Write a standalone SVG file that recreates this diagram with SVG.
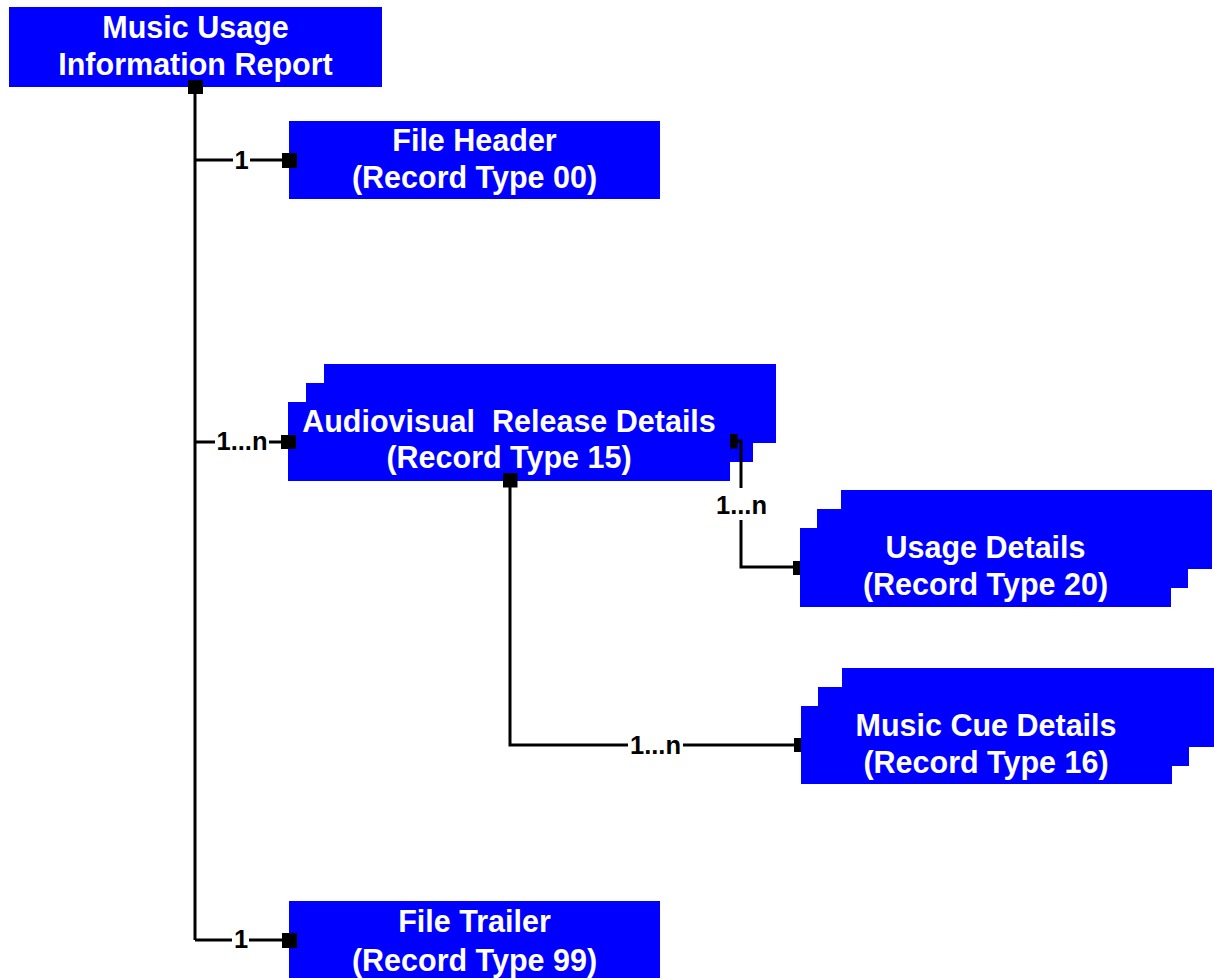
<svg xmlns="http://www.w3.org/2000/svg" width="1214" height="978" viewBox="0 0 1214 978">
  <style>
    .box { fill: #0000FF; stroke: none; }
    .nt { font-family: "Liberation Sans", Arial, sans-serif; font-weight: bold; font-size: 30.5px; fill: #FFFFFF; text-anchor: middle; }
    .ln { fill: none; stroke: #000000; stroke-width: 3; }
    .end { fill: #000000; }
    .lbg { fill: #FFFFFF; }
    .lt { font-family: "Liberation Sans", Arial, sans-serif; font-weight: bold; font-size: 25.5px; fill: #000000; text-anchor: middle; }
  </style>
  <rect width="1214" height="978" fill="#FFFFFF"/>

  <g id="nodes">
    <g id="report">
      <rect class="box" x="9" y="7" width="373" height="80"/>
      <text class="nt" x="195.5" y="37.5">Music Usage</text>
      <text class="nt" x="195.5" y="74.5">Information Report</text>
    </g>
    <g id="file-header">
      <rect class="box" x="289" y="121" width="371" height="78"/>
      <text class="nt" x="474.5" y="150.5">File Header</text>
      <text class="nt" x="474.5" y="187.5">(Record Type 00)</text>
    </g>
    <g id="av-release">
      <rect class="box" x="324" y="364" width="452" height="79"/>
      <rect class="box" x="306" y="383" width="447" height="79"/>
      <rect class="box" x="288" y="402" width="442" height="79"/>
      <text class="nt" x="509" y="431.5" xml:space="preserve">Audiovisual  Release Details</text>
      <text class="nt" x="509" y="468">(Record Type 15)</text>
    </g>
    <g id="usage-details">
      <rect class="box" x="841" y="490" width="371" height="79"/>
      <rect class="box" x="817" y="509" width="371" height="79"/>
      <rect class="box" x="800" y="528" width="371" height="79"/>
      <text class="nt" x="985.5" y="558">Usage Details</text>
      <text class="nt" x="985.5" y="595">(Record Type 20)</text>
    </g>
    <g id="music-cue">
      <rect class="box" x="842" y="668" width="372" height="79"/>
      <rect class="box" x="818" y="687" width="371" height="79"/>
      <rect class="box" x="801" y="706" width="371" height="78"/>
      <text class="nt" x="986" y="735.5">Music Cue Details</text>
      <text class="nt" x="986" y="772.5">(Record Type 16)</text>
    </g>
    <g id="file-trailer">
      <rect class="box" x="289" y="901" width="371" height="80"/>
      <text class="nt" x="474.5" y="931.5">File Trailer</text>
      <text class="nt" x="474.5" y="970.5">(Record Type 99)</text>
    </g>
  </g>

  <g id="connectors">
    <path class="ln" d="M195 87 V940"/>
    <rect class="end" x="188" y="80" width="15" height="14"/>

    <path class="ln" d="M195 160 H289"/>
    <rect class="lbg" x="233" y="146" width="17" height="28"/>
    <text class="lt" x="241.5" y="168.5">1</text>
    <rect class="end" x="282" y="153" width="15" height="15"/>

    <path class="ln" d="M195 442 H288"/>
    <rect class="lbg" x="215" y="428" width="54" height="28"/>
    <text class="lt" x="242" y="450">1...n</text>
    <rect class="end" x="281" y="435" width="15" height="14"/>

    <path class="ln" d="M195 940 H289"/>
    <rect class="lbg" x="232" y="926" width="17" height="28"/>
    <text class="lt" x="241" y="948">1</text>
    <rect class="end" x="282" y="933" width="15" height="15"/>

    <path class="ln" d="M730 441 H741 V567 H800"/>
    <rect class="lbg" x="714" y="488" width="55" height="32"/>
    <text class="lt" x="741.5" y="513.5">1...n</text>
    <rect class="end" x="730" y="434" width="7.5" height="14.5"/>
    <rect class="end" x="793" y="561" width="7" height="14"/>

    <path class="ln" d="M510 480 V745 H801"/>
    <rect class="lbg" x="628" y="731" width="55" height="28"/>
    <text class="lt" x="655.5" y="753.5">1...n</text>
    <rect class="end" x="503" y="473" width="14.5" height="14.5"/>
    <rect class="end" x="794" y="738" width="7" height="14"/>
  </g>
</svg>
